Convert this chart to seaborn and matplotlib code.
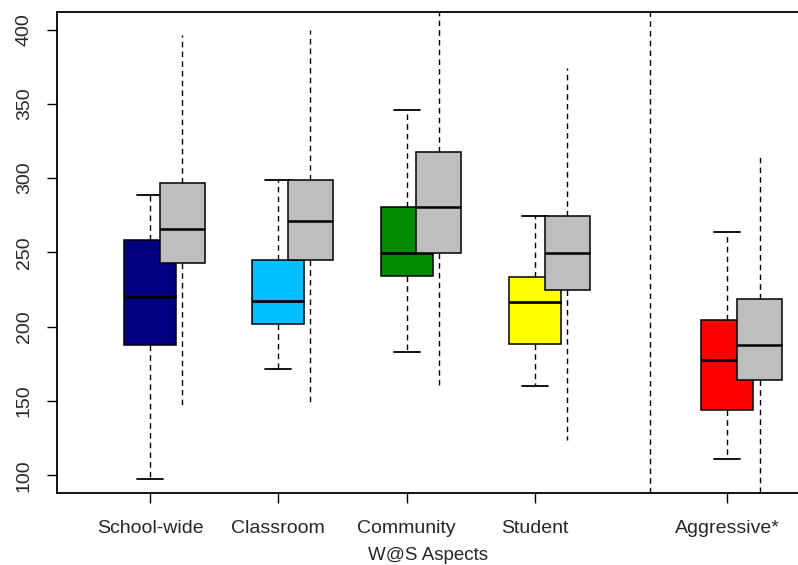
import numpy as np
import pandas as pd
import seaborn as sns
import matplotlib.pyplot as plt

categories = ["School-wide", "Classroom", "Community", "Student", "Aggressive*"]
positions = [1, 2, 3, 4, 5.5]
box_colors = ["#000080", "#00BFFF", "#008B00", "#FFFF00", "#FF0000"]
ref_color = "#BEBEBE"

# five-number summaries: min, q1, median, q3, max
was_min = [97.6, 171.7, 182.8, 160.5, 111.2]
was_q1 = [188.0, 201.7, 234.4, 188.2, 144.1]
was_med = [220.3, 217.1, 249.8, 216.8, 177.7]
was_q3 = [258.5, 244.7, 280.9, 233.4, 204.6]
was_max = [289.0, 299.0, 345.9, 274.7, 263.9]

ref_min = [145.8, 148.6, 160.9, 124.0, 80.0]
ref_q1 = [243.0, 245.1, 249.8, 225.0, 164.3]
ref_med = [266.0, 271.3, 280.9, 249.8, 188.0]
ref_q3 = [297.0, 299.0, 317.9, 274.7, 218.9]
ref_max = [396.6, 400.0, 420.0, 374.3, 314.3]


def summary_frame(mins, q1s, meds, q3s, maxs, shift):
    # five points per box give back exactly these quartiles
    rows = []
    for cat, pos, *vals in zip(categories, positions, mins, q1s, meds, q3s, maxs):
        for v in vals:
            rows.append({"aspect": cat, "pos": pos + shift, "score": v})
    return pd.DataFrame(rows)


was_df = summary_frame(was_min, was_q1, was_med, was_q3, was_max, 0.0)
ref_df = summary_frame(ref_min, ref_q1, ref_med, ref_q3, ref_max, 0.25)

sns.set_style("ticks")
plt.rcParams["font.family"] = ["Liberation Sans", "DejaVu Sans"]

fig = plt.figure(figsize=(7.98, 5.65), dpi=100)
ax = fig.add_axes([0.0718, 0.1269, 0.9282, 0.8524])

dash = (0, (4, 3))
sns.boxplot(data=was_df, x="pos", y="score", hue="aspect", palette=box_colors,
            native_scale=True, width=0.405, whis=(0, 100), saturation=1,
            linecolor="black", linewidth=1.1, legend=False, ax=ax, zorder=2,
            whiskerprops={"linestyle": dash, "color": "black", "linewidth": 1},
            capprops={"color": "black", "linewidth": 1.3},
            medianprops={"color": "black", "linewidth": 2})
sns.boxplot(data=ref_df, x="pos", y="score", color=ref_color,
            native_scale=True, width=0.35, whis=(0, 100), saturation=1,
            linecolor="black", linewidth=1.1, ax=ax, zorder=3,
            whiskerprops={"linestyle": dash, "color": "black", "linewidth": 1},
            capprops={"visible": False},
            medianprops={"color": "black", "linewidth": 1.8})

ax.axvline(4.9, color="black", linestyle=dash, linewidth=1)

ax.set_xlim(0.277, 6.05)
ax.set_ylim(88, 412)
ax.set_xticks(positions, categories)
ax.set_yticks([100, 150, 200, 250, 300, 350, 400])
ax.set_xlabel("W@S Aspects", fontsize=13.5, labelpad=7)
ax.set_ylabel("")

ax.tick_params(axis="both", length=7.5, width=1, color="black", labelsize=14)
ax.tick_params(axis="x", pad=12)
ax.tick_params(axis="y", pad=10, labelrotation=90)
for t in ax.get_yticklabels():
    t.set_va("center")

for side in ["left", "bottom", "top"]:
    ax.spines[side].set_color("black")
    ax.spines[side].set_linewidth(1.3)
ax.spines["right"].set_visible(False)

fig.savefig("out.png", dpi=100)
